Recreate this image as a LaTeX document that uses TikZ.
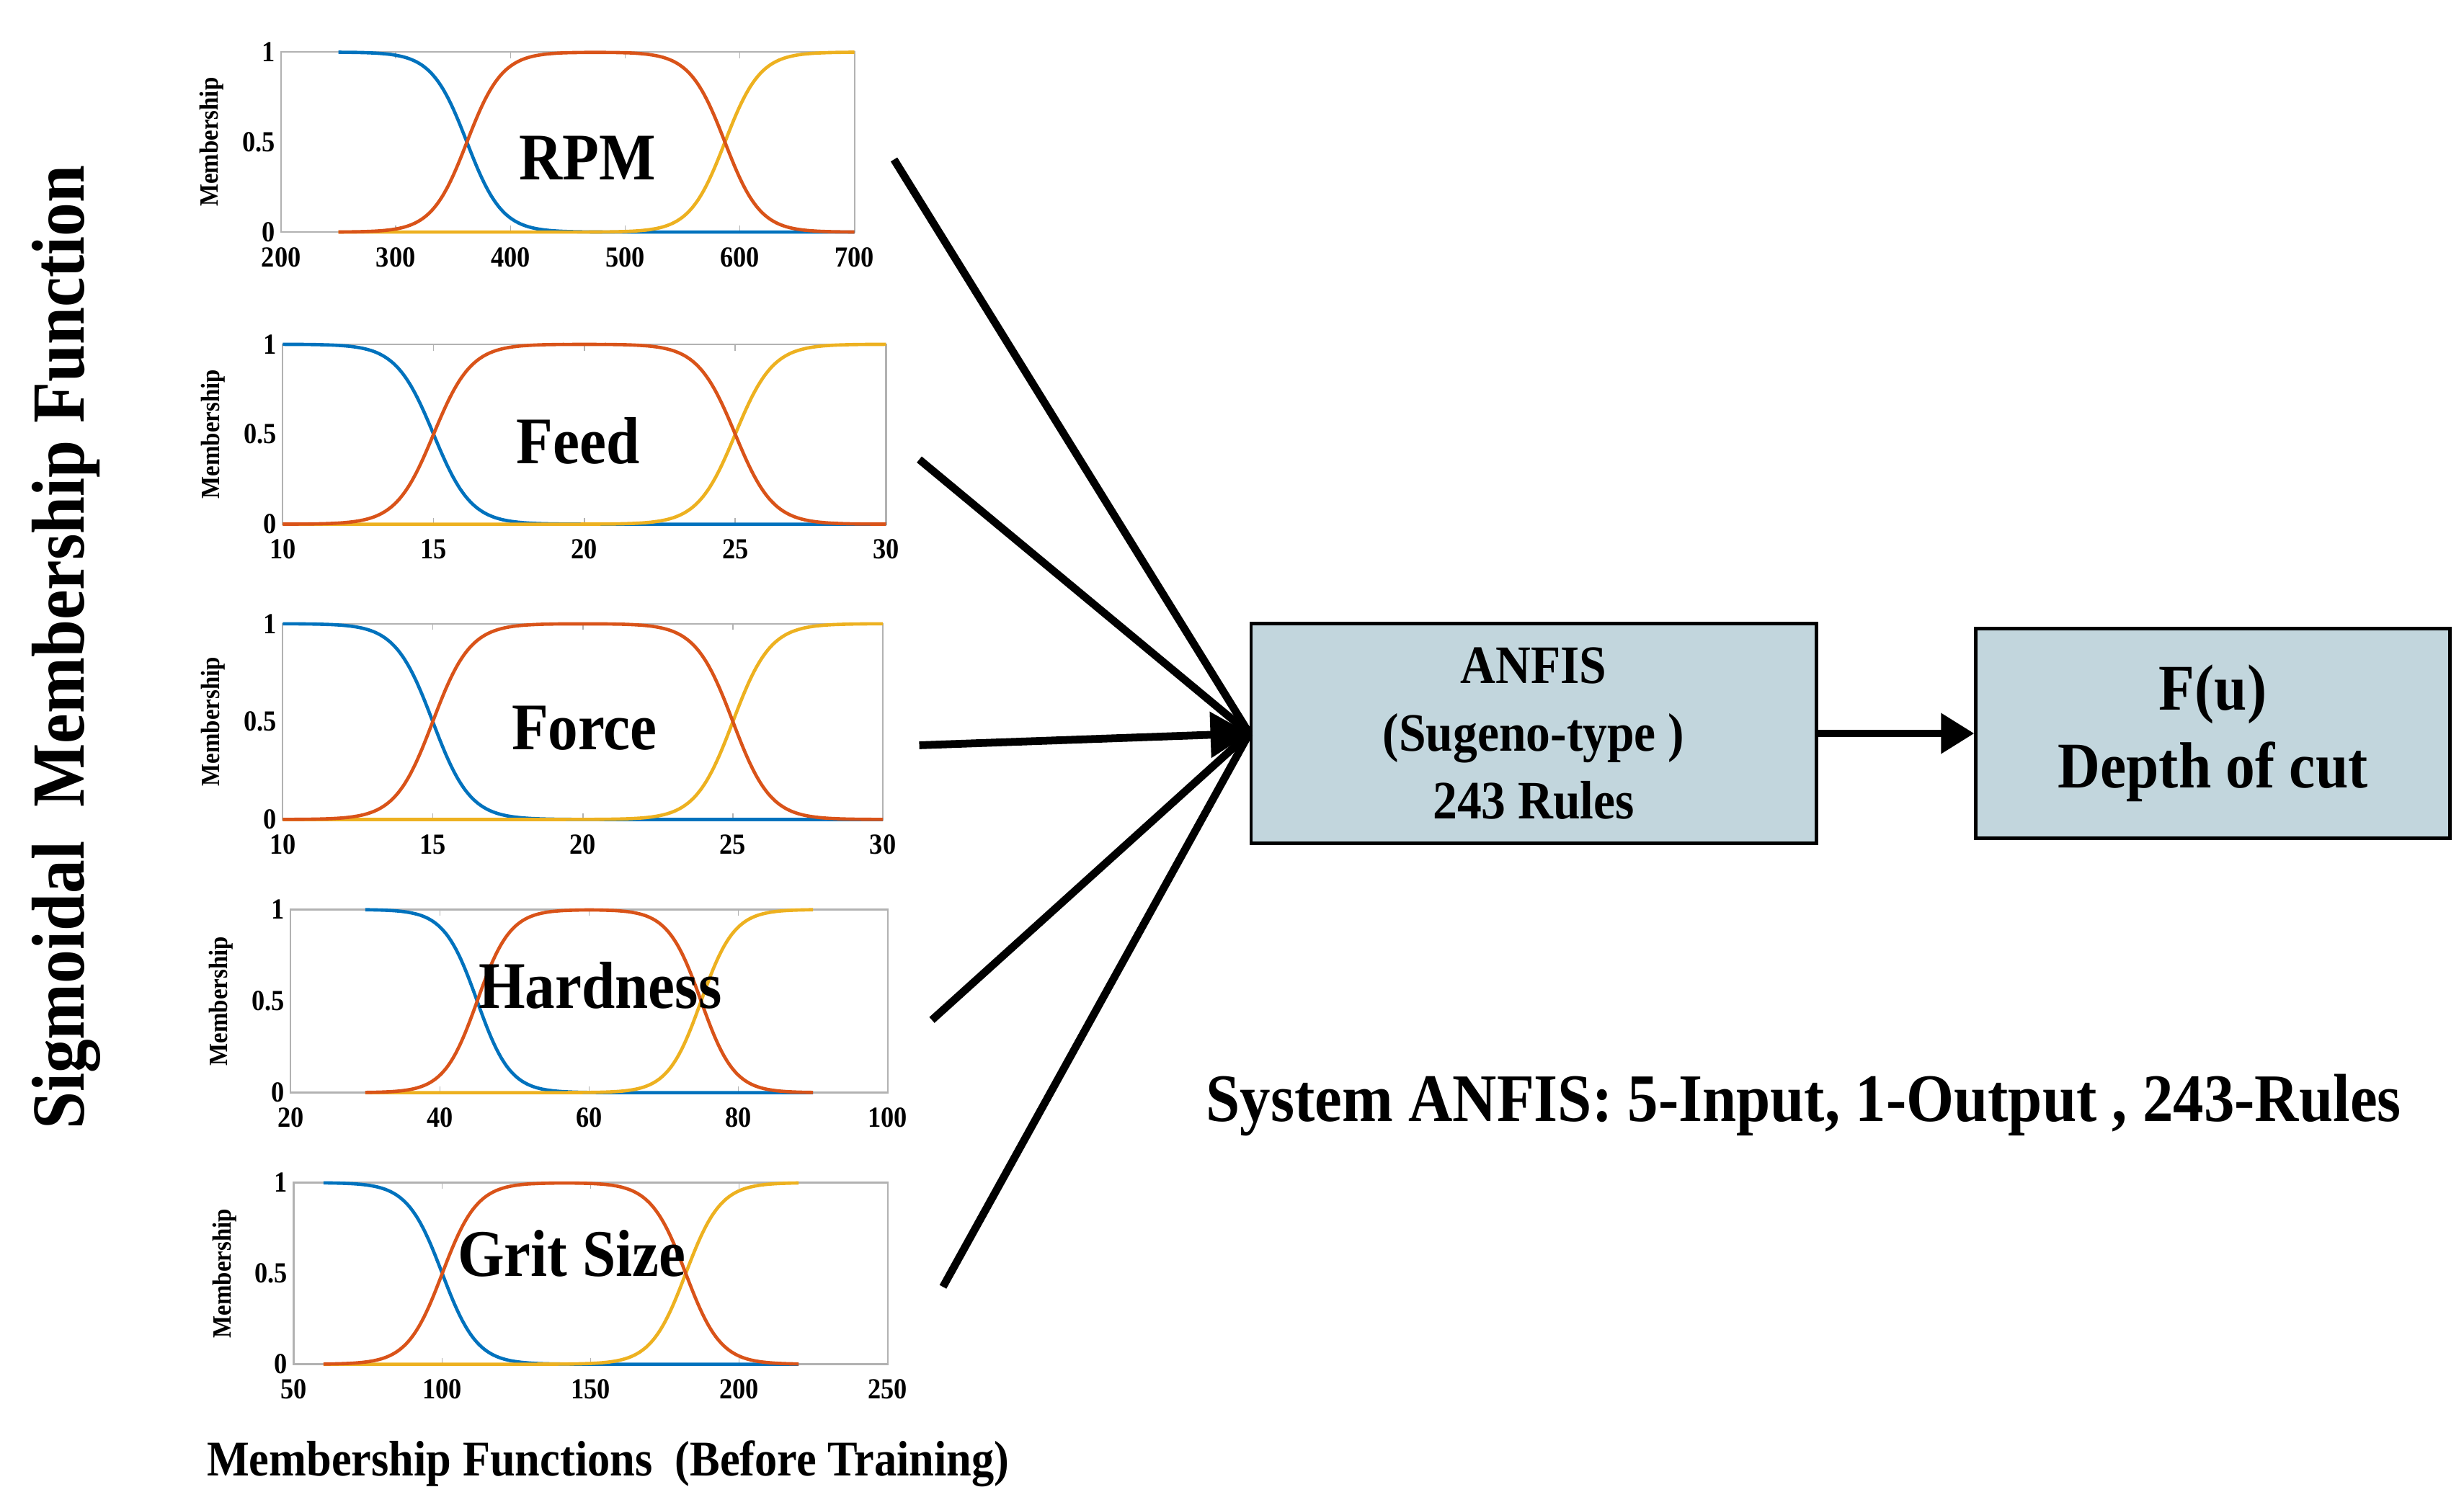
\documentclass[tikz,border=0pt]{standalone}
\usepackage{fontspec}
\setmainfont{Liberation Serif}[FakeStretch=0.9]
\usetikzlibrary{arrows.meta}
\definecolor{mblue}{RGB}{0,114,189}
\definecolor{mred}{RGB}{217,83,25}
\definecolor{myel}{RGB}{237,177,32}
\definecolor{boxfill}{RGB}{194,214,221}
\newcommand\sg[1]{(1/(1+exp(-min(max(#1,-9),9))))}
\newcommand\MX[1]{(\PXa+((#1)-\XMIN)/(\XMAX-\XMIN)*(\PXb-\PXa))}
\newcommand\drawmf{%
  \draw[gray!60, line width=0.6pt] (\PXa,\PYa) rectangle (\PXb,\PYb);
  \foreach \t in \TICKS {
    \draw[gray!60] ({\MX{\t}},\PYb) -- ++(0,-4) ({\MX{\t}},\PYa) -- ++(0,4);
    \node[tick] at ({\MX{\t}},\PYb+16) {\t};}
  \node[tick, anchor=east] at (\PXa,\PYb) {0};
  \node[tick, anchor=east] at (\PXa,{(\PYa+\PYb)/2}) {0.5};
  \node[tick, anchor=east] at (\PXa,\PYa) {1};
  \node[memb] at (\PXa-44,{(\PYa+\PYb)/2}) {Membership};
  \draw[mfl, mblue] plot[domain=\DA:\DB] ({\MX{\x}},{\PYb-(\PYb-\PYa)*\sg{-\A*(\x-\CA)}});
  \draw[mfl, myel] plot[domain=\DA:\DB] ({\MX{\x}},{\PYb-(\PYb-\PYa)*\sg{\A*(\x-\CB)}});
  \draw[mfl, mred] plot[domain=\DA:\DB] ({\MX{\x}},{\PYb-(\PYb-\PYa)*\sg{\A*(\x-\CA)}*\sg{-\A*(\x-\CB)}});
}
\begin{document}
\begin{tikzpicture}[x=0.02cm,y=-0.02cm,
  tick/.style={font=\bfseries\fontsize{10.5}{11}\selectfont, inner sep=2pt},
  memb/.style={font=\bfseries\fontsize{9.5}{10}\selectfont, rotate=90},
  mfl/.style={line width=1.2pt, smooth, samples=100},
  ttl/.style={font=\bfseries\fontsize{24}{26}\selectfont},
  conn/.style={line width=2.8pt},
  blk/.style={draw, line width=1.2pt, fill=boxfill, align=center, inner sep=0pt}]
\useasboundingbox (0,0) rectangle (1560,953);
% plot 1
\def\PXa{178}\def\PXb{541}\def\PYa{33}\def\PYb{147}
\def\XMIN{200}\def\XMAX{700}\def\DA{250}\def\DB{700}
\def\CA{362}\def\CB{587}\def\A{0.065}\def\TICKS{200,300,400,500,600,700}
\drawmf
\node[ttl] (t1) at (372,100) {RPM};
% plot 2
\def\PXa{179}\def\PXb{561}\def\PYa{218}\def\PYb{332}
\def\XMIN{10}\def\XMAX{30}\def\DA{10}\def\DB{30}
\def\CA{15}\def\CB{25}\def\A{1.6}\def\TICKS{10,15,20,25,30}
\drawmf
\node[ttl] (t2) at (366,279) {Feed};
% plot 3
\def\PXa{179}\def\PXb{559}\def\PYa{395}\def\PYb{519}
\drawmf
\node[ttl] (t3) at (370,461) {Force};
% plot 4
\def\PXa{184}\def\PXb{562}\def\PYa{576}\def\PYb{692}
\def\XMIN{20}\def\XMAX{100}\def\DA{30}\def\DB{90}
\def\CA{45}\def\CB{75}\def\A{0.45}\def\TICKS{20,40,60,80,100}
\drawmf
\node[ttl] (t4) at (380,624) {Hardness};
% plot 5
\def\PXa{186}\def\PXb{562}\def\PYa{749}\def\PYb{864}
\def\XMIN{50}\def\XMAX{250}\def\DA{60}\def\DB{220}
\def\CA{100}\def\CB{182}\def\A{0.17}\def\TICKS{50,100,150,200,250}
\drawmf
\node[ttl] (t5) at (362,794) {Grit Size};
% labels
\node[rotate=90, font=\bfseries\fontsize{27}{29}\selectfont] (vt) at (42,410) {Sigmoidal\ \ Membership Function};
\node[font=\bfseries\fontsize{18}{20}\selectfont] (bl) at (385,927) {Membership Functions\ \ (Before Training)};
\node[font=\bfseries\fontsize{24.5}{26}\selectfont] (sys) at (1142,700) {System ANFIS: 5-Input, 1-Output , 243-Rules};
% blocks
\node[blk, minimum width=358*0.02cm, minimum height=139*0.02cm, font=\bfseries\fontsize{19.5}{24.5}\selectfont] (anfis) at (971,464.5) {ANFIS\\(Sugeno-type )\\243 Rules};
\node[blk, minimum width=300*0.02cm, minimum height=133*0.02cm, font=\bfseries\fontsize{23.5}{28}\selectfont] (fu) at (1401,464.5) {F(u)\\Depth of cut};
\draw[conn, -{Triangle[length=12pt,width=14pt]}] (anfis.east) -- (fu.west);
% connectors
\coordinate (s1) at (566,101);
\coordinate (s2) at (582,291);
\coordinate (s3) at (582,472);
\coordinate (s4) at (590,646);
\coordinate (s5) at (597,815);
\coordinate (hub) at (anfis.west);
\draw[conn] (s1) -- (hub);
\draw[conn] (s2) -- (hub);
\draw[conn, -{Triangle[length=14pt,width=16pt]}] (s3) -- (hub);
\draw[conn] (s4) -- (hub);
\draw[conn] (s5) -- (hub);
\end{tikzpicture}
\end{document}
